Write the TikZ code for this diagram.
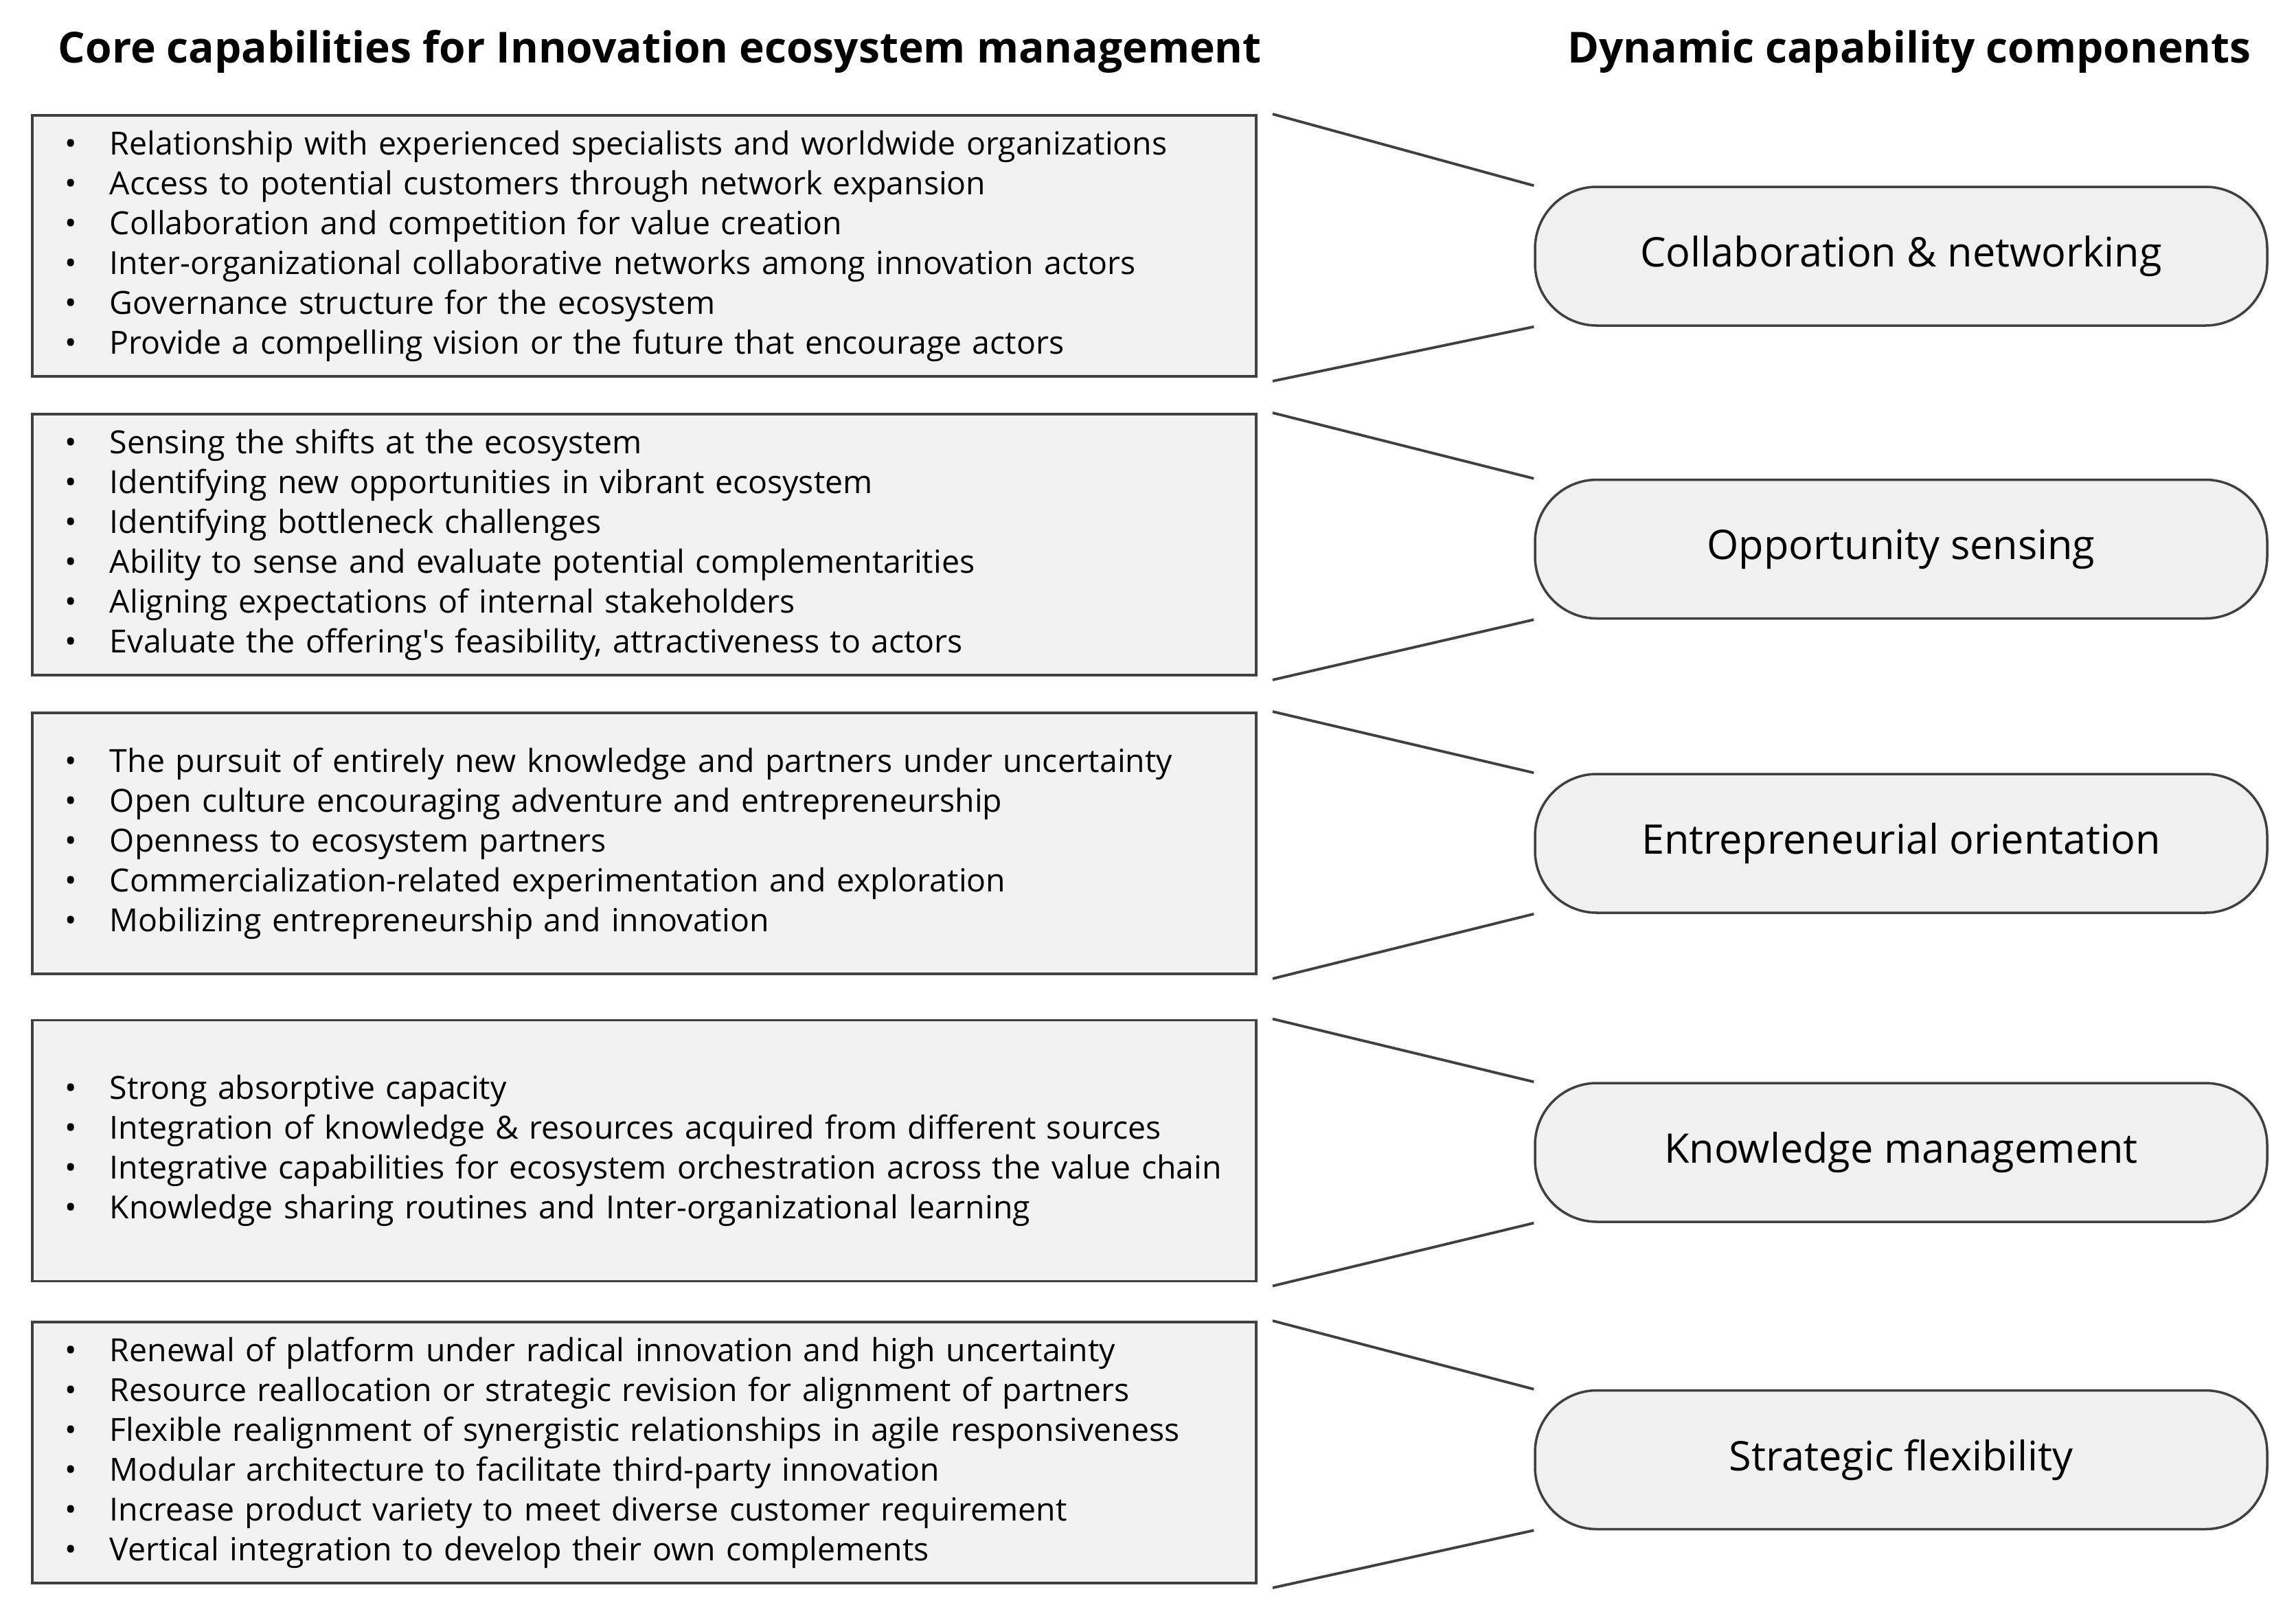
\documentclass[tikz,border=0pt]{standalone}
\usepackage{fontspec}
\setmainfont{Open Sans}
\usepackage{tikz}

\newcommand{\itm}[1]{\mbox{\makebox[0.66cm][l]{\textbullet}#1}}

\begin{document}
\begin{tikzpicture}[
    head/.style={font=\bfseries\fontsize{17.7}{20}\selectfont},
    capbox/.style={draw=black!75, line width=1.1pt, fill=black!5, minimum width=17.82cm, minimum height=3.8cm, text width=16.88cm, inner xsep=0.47cm, align=left, font=\fontsize{13.2}{16.5}\selectfont},
    dynbox/.style={draw=black!75, line width=1pt, fill=black!6, rounded corners=0.9cm, minimum width=10.66cm, minimum height=2.02cm, font=\fontsize{16.9}{19}\selectfont},
    link/.style={draw=black!75, line width=1.1pt}]
    \useasboundingbox (0,0) rectangle (33.43,-23.52);
    \node[head] (lefthead) at (9.61,-0.75) {Core capabilities for Innovation ecosystem management};
    \node[head] (righthead) at (27.80,-0.75) {Dynamic capability components};

    \node[capbox] (cap1) at (9.38,-3.58) {\itm{Relationship with experienced specialists and worldwide organizations}\\
        \itm{Access to potential customers through network expansion}\\
        \itm{Collaboration and competition for value creation}\\
        \itm{Inter-organizational collaborative networks among innovation actors}\\
        \itm{Governance structure for the ecosystem}\\
        \itm{Provide a compelling vision or the future that encourage actors}};
    \node[capbox] (cap2) at (9.38,-7.93) {\itm{Sensing the shifts at the ecosystem}\\
        \itm{Identifying new opportunities in vibrant ecosystem}\\
        \itm{Identifying bottleneck challenges}\\
        \itm{Ability to sense and evaluate potential complementarities}\\
        \itm{Aligning expectations of internal stakeholders}\\
        \itm{Evaluate the offering\textquotesingle s feasibility, attractiveness to actors}};
    \node[capbox] (cap3) at (9.38,-12.28) {\itm{The pursuit of entirely new knowledge and partners under uncertainty}\\
        \itm{Open culture encouraging adventure and entrepreneurship}\\
        \itm{Openness to ecosystem partners}\\
        \itm{Commercialization-related experimentation and exploration}\\
        \itm{Mobilizing entrepreneurship and innovation}};
    \node[capbox] (cap4) at (9.38,-16.755) {\itm{Strong absorptive capacity}\\
        \itm{Integration of knowledge \& resources acquired from different sources}\\
        \itm{Integrative capabilities for ecosystem orchestration across the value chain}\\
        \itm{Knowledge sharing routines and Inter-organizational learning}};
    \node[capbox] (cap5) at (9.38,-21.15) {\itm{Renewal of platform under radical innovation and high uncertainty}\\
        \itm{Resource reallocation or strategic revision for alignment of partners}\\
        \itm{Flexible realignment of synergistic relationships in agile responsiveness}\\
        \itm{Modular architecture to facilitate third-party innovation}\\
        \itm{Increase product variety to meet diverse customer requirement}\\
        \itm{Vertical integration to develop their own complements}};

    \node[dynbox] (dyn1) at (27.68,-3.73) {Collaboration \& networking};
    \node[dynbox] (dyn2) at (27.68,-7.995) {Opportunity sensing};
    \node[dynbox] (dyn3) at (27.68,-12.28) {Entrepreneurial orientation};
    \node[dynbox] (dyn4) at (27.68,-16.78) {Knowledge management};
    \node[dynbox] (dyn5) at (27.68,-21.255) {Strategic flexibility};

    \foreach \i in {1,...,5} {
        \draw[link] ([xshift=0.22cm]cap\i.north east) -- (dyn\i.north west);
        \draw[link] ([xshift=0.22cm,yshift=-0.05cm]cap\i.south east) -- (dyn\i.south west);
    }
\end{tikzpicture}
\end{document}
